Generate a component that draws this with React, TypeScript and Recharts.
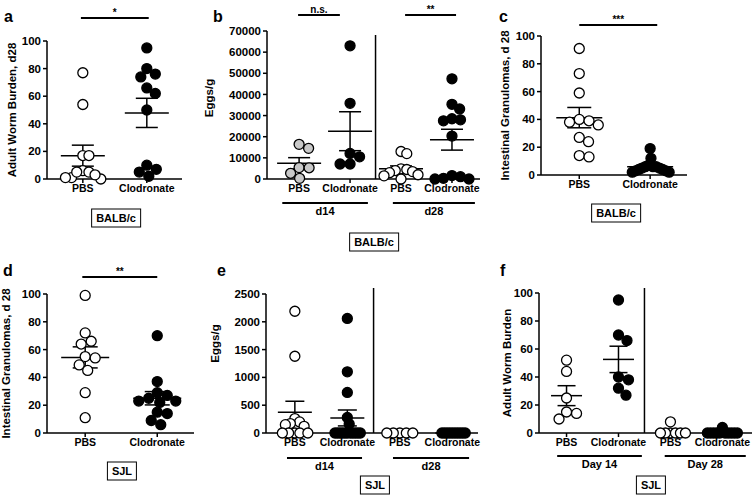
import { ScatterChart, Scatter, XAxis, YAxis, ReferenceLine, Label } from 'recharts';

const FONT = '"Liberation Sans", Arial, Helvetica, sans-serif';

// values (one array per group)
const aPBS = [77, 54, 17, 17, 6, 5, 1, 0, 1, 3, 5];
const aClod = [95, 80, 76, 74, 66, 62, 50, 10, 7, 5, 2];

const bD14PBS = [16400, 14500, 5400, 5300, 2700, 300];
const bD14Clod = [63000, 35800, 12100, 10500, 7100, 7100];
const bD28PBS = [13000, 12000, 4800, 4500, 4000, 3500, 3000, 2000, 1500, 0];
const bD28Clod = [47400, 35300, 33100, 28500, 28000, 27500, 20300, 1600, 1100, 300, 0, 0];

const cPBS = [91, 73, 59, 40, 39, 38, 36, 27, 24, 14, 13];
const cClod = [19, 12, 7, 6, 6, 6, 5, 5, 4, 4, 3, 3, 2, 2];

const dPBS = [99, 72, 66, 64, 55, 54, 49, 45, 29, 11];
const dClod = [70, 37, 29, 27, 25, 23, 23, 22, 15, 14, 9, 6];

const eD14PBS = [2190, 1380, 260, 200, 170, 150, 120, 0, 0, 0, 0, 0];
const eD14Clod = [2060, 1100, 730, 280, 160, 0, 0, 0, 0, 0, 0, 0, 0, 0, 0, 0];
const eD28PBS = [0, 0, 0, 0, 0];
const eD28Clod = [0, 0, 0, 0, 0, 0, 0, 0, 0, 0];

const fD14PBS = [52, 44, 25, 15, 14, 10];
const fD14Clod = [95, 70, 66, 40, 38, 32, 27];
const fD28PBS = [8, 0, 0, 0, 0, 0, 0];
const fD28Clod = [4, 0, 0, 0, 0, 0, 0, 0, 0, 0, 0];

const catsTwo = ['PBS', 'Clodronate'];
const catsFour = ['PBS', 'Clodronate', 'PBS', 'Clodronate'];
const ticks100 = [0, 20, 40, 60, 80, 100];
const ticksB = [0, 10000, 20000, 30000, 40000, 50000, 60000, 70000];
const ticksE = [0, 500, 1000, 1500, 2000, 2500];

const OPEN = '#fff';
const FILLED = '#000';
const GREY = '#c8c8c8';

interface Group { values: number[]; fill: string }
interface Bracket { from: number; to: number; text: string }
interface PanelCfg {
  letter: string; letterX: number; letterY: number;
  left: number; top: number; width: number; height: number;
  margin: { top: number; right: number; bottom: number; left: number };
  yAxisWidth: number; yMax: number; yTicks: number[]; xDomain: [number, number];
  cats: string[]; groups: Group[];
  title: string; titleDx: number; titleDy: number;
  sig: Bracket[]; sigPx: number;
  dividerPx?: number;
  brackets: Bracket[]; bracketPx: number;
  strain: string; strainX: number; strainY: number;
  meanHalf: number; capHalf: number; swarmHalf: number;
}

const panels: PanelCfg[] = [
  {
    letter: 'a', letterX: 4, letterY: 23, left: 0, top: 0, width: 200, height: 250,
    margin: { top: 41, right: 18, bottom: 51, left: 7 }, yAxisWidth: 40,
    yMax: 100, yTicks: ticks100, xDomain: [0.44, 2.55], cats: catsTwo,
    groups: [{ values: aPBS, fill: OPEN }, { values: aClod, fill: FILLED }],
    title: 'Adult Worm Burden, d28', titleDx: 35, titleDy: 0,
    sig: [{ from: 0.97, to: 2.03, text: '*' }], sigPx: 23,
    brackets: [], bracketPx: 0,
    strain: 'BALB/c', strainX: 116, strainY: 218, meanHalf: 22, capHalf: 11, swarmHalf: 18,
  },
  {
    letter: 'b', letterX: 213, letterY: 23, left: 200, top: 0, width: 295, height: 250,
    margin: { top: 31, right: 15, bottom: 51, left: 17 }, yAxisWidth: 50,
    yMax: 70000, yTicks: ticksB, xDomain: [0.37, 4.55], cats: catsFour,
    groups: [
      { values: bD14PBS, fill: GREY }, { values: bD14Clod, fill: FILLED },
      { values: bD28PBS, fill: OPEN }, { values: bD28Clod, fill: FILLED },
    ],
    title: 'Eggs/g', titleDx: 58, titleDy: -7,
    sig: [{ from: 0.98, to: 1.8, text: 'n.s.' }, { from: 3.08, to: 4.08, text: '**' }], sigPx: 16,
    dividerPx: -4,
    brackets: [{ from: 0.67, to: 2.35, text: 'd14' }, { from: 2.84, to: 4.45, text: 'd28' }], bracketPx: 24,
    strain: 'BALB/c', strainX: 374, strainY: 242, meanHalf: 22, capHalf: 11, swarmHalf: 17,
  },
  {
    letter: 'c', letterX: 499, letterY: 23, left: 495, top: 0, width: 259, height: 250,
    margin: { top: 36, right: 67, bottom: 55, left: 6 }, yAxisWidth: 40,
    yMax: 100, yTicks: ticks100, xDomain: [0.46, 2.52], cats: catsTwo,
    groups: [{ values: cPBS, fill: OPEN }, { values: cClod, fill: FILLED }],
    title: 'Intestinal Granulomas, d 28', titleDx: 36, titleDy: 0,
    sig: [{ from: 1.0, to: 2.1, text: '***' }], sigPx: 11,
    brackets: [], bracketPx: 0,
    strain: 'BALB/c', strainX: 616, strainY: 213, meanHalf: 23, capHalf: 12, swarmHalf: 19,
  },
  {
    letter: 'd', letterX: 3, letterY: 277, left: 0, top: 250, width: 205, height: 248,
    margin: { top: 44, right: 11, bottom: 45, left: 7 }, yAxisWidth: 40,
    yMax: 100, yTicks: ticks100, xDomain: [0.47, 2.51], cats: catsTwo,
    groups: [{ values: dPBS, fill: OPEN }, { values: dClod, fill: FILLED }],
    title: 'Intestinal Granulomas, d 28', titleDx: 41, titleDy: 0,
    sig: [{ from: 0.96, to: 2.0, text: '**' }], sigPx: 17,
    brackets: [], bracketPx: 0,
    strain: 'SJL', strainX: 122, strainY: 471, meanHalf: 24, capHalf: 12.5, swarmHalf: 19,
  },
  {
    letter: 'e', letterX: 217, letterY: 277, left: 205, top: 250, width: 290, height: 248,
    margin: { top: 44, right: 17, bottom: 45, left: 16 }, yAxisWidth: 45,
    yMax: 2500, yTicks: ticksE, xDomain: [0.45, 4.49], cats: catsFour,
    groups: [
      { values: eD14PBS, fill: OPEN }, { values: eD14Clod, fill: FILLED },
      { values: eD28PBS, fill: OPEN }, { values: eD28Clod, fill: FILLED },
    ],
    title: 'Eggs/g', titleDx: 51, titleDy: -20,
    sig: [], sigPx: 0,
    dividerPx: 6,
    brackets: [{ from: 0.85, to: 2.28, text: 'd14' }, { from: 2.87, to: 4.32, text: 'd28' }], bracketPx: 25,
    strain: 'SJL', strainX: 375, strainY: 485, meanHalf: 17, capHalf: 9.5, swarmHalf: 13,
  },
  {
    letter: 'f', letterX: 500, letterY: 277, left: 495, top: 250, width: 259, height: 248,
    margin: { top: 43, right: 2, bottom: 45, left: 4 }, yAxisWidth: 40,
    yMax: 100, yTicks: ticks100, xDomain: [0.47, 4.57], cats: catsFour,
    groups: [
      { values: fD14PBS, fill: OPEN }, { values: fD14Clod, fill: FILLED },
      { values: fD28PBS, fill: OPEN }, { values: fD28Clod, fill: FILLED },
    ],
    title: 'Adult Worm Burden', titleDx: 32, titleDy: 0,
    sig: [], sigPx: 0,
    dividerPx: 5,
    brackets: [{ from: 0.82, to: 2.45, text: 'Day 14' }, { from: 2.89, to: 4.45, text: 'Day 28' }], bracketPx: 23,
    strain: 'SJL', strainX: 651, strainY: 485, meanHalf: 15.5, capHalf: 9, swarmHalf: 15,
  },
];

const mean = (v: number[]) => v.reduce((s, x) => s + x, 0) / v.length;
const sem = (v: number[]) => {
  const m = mean(v);
  const sd = Math.sqrt(v.reduce((s, x) => s + (x - m) ** 2, 0) / (v.length - 1));
  return sd / Math.sqrt(v.length);
};

// simple beeswarm: spread points that would overlap, in pixel space
function swarm(values: number[], center: number, xPerPx: number, pxPerY: number, maxHalf: number) {
  const D = 10;
  const order = values.map((_, i) => i).sort((p, q) => values[q] - values[p]);
  const placed: { ox: number; py: number }[] = [];
  const offs: number[] = new Array(values.length).fill(0);
  for (const i of order) {
    const py = values[i] * pxPerY;
    let best = 0;
    for (let s = 0; s < 200; s += 0.5) {
      const cands = s === 0 ? [0] : [s, -s];
      const hit = cands.find((c) => placed.every((p) => Math.hypot(p.ox - c, p.py - py) >= D));
      if (hit !== undefined) { best = hit; break; }
    }
    placed.push({ ox: best, py });
    offs[i] = best;
  }
  const widest = Math.max(...offs.map(Math.abs));
  const k = widest > maxHalf ? maxHalf / widest : 1;
  return values.map((v, i) => ({ x: center + offs[i] * k * xPerPx, y: v }));
}

const dot = (fill: string) => (props: any) => (
  <circle cx={props.cx} cy={props.cy} r={5} fill={fill} stroke="#000" strokeWidth={1.3} />
);

const textStyle = { fill: '#000', fontSize: 11, fontWeight: 700, fontFamily: FONT };

function Panel({ cfg }: { cfg: PanelCfg }) {
  const m = cfg.margin;
  const xAxisH = 20;
  const plotW = cfg.width - m.left - m.right - cfg.yAxisWidth;
  const plotH = cfg.height - m.top - m.bottom - xAxisH;
  const xPerPx = (cfg.xDomain[1] - cfg.xDomain[0]) / plotW;
  const yPerPx = cfg.yMax / plotH;

  const seg = (key: string, x1: number, y1: number, x2: number, y2: number, w = 1.5, label?: any) => (
    <ReferenceLine
      key={key}
      segment={[{ x: x1, y: y1 }, { x: x2, y: y2 }]}
      stroke="#000"
      strokeWidth={w}
      ifOverflow="visible"
      label={label}
    />
  );

  const stats = cfg.groups.flatMap((g, i) => {
    const c = i + 1;
    const mu = mean(g.values);
    const se = sem(g.values);
    const mh = cfg.meanHalf * xPerPx;
    const ch = cfg.capHalf * xPerPx;
    return [
      seg(`m${i}`, c - mh, mu, c + mh, mu),
      seg(`v${i}`, c, mu - se, c, mu + se),
      seg(`t${i}`, c - ch, mu + se, c + ch, mu + se),
      seg(`b${i}`, c - ch, mu - se, c + ch, mu - se),
    ];
  });

  const sigY = cfg.yMax + cfg.sigPx * yPerPx;
  const brY = -cfg.bracketPx * yPerPx;
  const titleX = m.left + cfg.yAxisWidth - cfg.titleDx;
  const titleY = m.top + plotH / 2 + cfg.titleDy;

  return (
    <div style={{ position: 'absolute', left: cfg.left, top: cfg.top }}>
      <ScatterChart width={cfg.width} height={cfg.height} margin={m}>
        <XAxis
          type="number"
          dataKey="x"
          domain={cfg.xDomain}
          ticks={cfg.cats.map((_, i) => i + 1)}
          interval={0}
          tickFormatter={(v: number) => cfg.cats[Math.round(v) - 1] ?? ''}
          height={xAxisH}
          tickSize={4}
          tickMargin={2}
          stroke="#000"
          strokeWidth={1.5}
          tick={{ ...textStyle, fontSize: 10.5 }}
        />
        <YAxis
          type="number"
          dataKey="y"
          domain={[0, cfg.yMax]}
          ticks={cfg.yTicks}
          interval={0}
          width={cfg.yAxisWidth}
          tickSize={4}
          tickMargin={2}
          stroke="#000"
          strokeWidth={1.5}
          tick={{ ...textStyle, fontSize: 11.5 }}
        >
          <Label
            content={() => (
              <text
                transform={`translate(${titleX},${titleY}) rotate(-90)`}
                textAnchor="middle"
                dominantBaseline="central"
                style={{ ...textStyle, fontSize: 11.5 }}
              >
                {cfg.title}
              </text>
            )}
          />
        </YAxis>
        {cfg.dividerPx !== undefined &&
          seg('div', 2.5, 0, 2.5, cfg.yMax + cfg.dividerPx * yPerPx, 1.5)}
        {cfg.sig.map((s, i) =>
          seg(`s${i}`, s.from, sigY, s.to, sigY, 2, {
            value: s.text, position: 'top', offset: 2, ...textStyle, fontSize: 10,
          })
        )}
        {cfg.brackets.map((b, i) =>
          seg(`g${i}`, b.from, brY, b.to, brY, 2, {
            value: b.text, position: 'bottom', offset: 4, ...textStyle, fontSize: 11,
          })
        )}
        {stats}
        {cfg.groups.map((g, i) => (
          <Scatter
            key={i}
            data={swarm(g.values, i + 1, xPerPx, 1 / yPerPx, cfg.swarmHalf)}
            shape={dot(g.fill)}
            isAnimationActive={false}
          />
        ))}
      </ScatterChart>
    </div>
  );
}

export default function App() {
  return (
    <div
      style={{
        position: 'absolute', left: 0, top: 0, width: 754, height: 498,
        background: '#fff', fontFamily: FONT, overflow: 'hidden',
      }}
    >
      {panels.map((p) => (
        <Panel key={p.letter} cfg={p} />
      ))}
      {panels.map((p) => (
        <div
          key={`l${p.letter}`}
          style={{
            position: 'absolute', left: p.letterX, top: p.letterY - 14,
            fontSize: 16, fontWeight: 700, lineHeight: '16px', color: '#000',
          }}
        >
          {p.letter}
        </div>
      ))}
      {panels.map((p) => (
        <div
          key={`k${p.letter}`}
          style={{
            position: 'absolute', left: p.strainX, top: p.strainY,
            transform: 'translate(-50%, -50%)', border: '1.5px solid #000',
            padding: '1px 4px', fontSize: 11, fontWeight: 700, lineHeight: '15px',
            color: '#000', whiteSpace: 'nowrap', background: '#fff',
          }}
        >
          {p.strain}
        </div>
      ))}
    </div>
  );
}
